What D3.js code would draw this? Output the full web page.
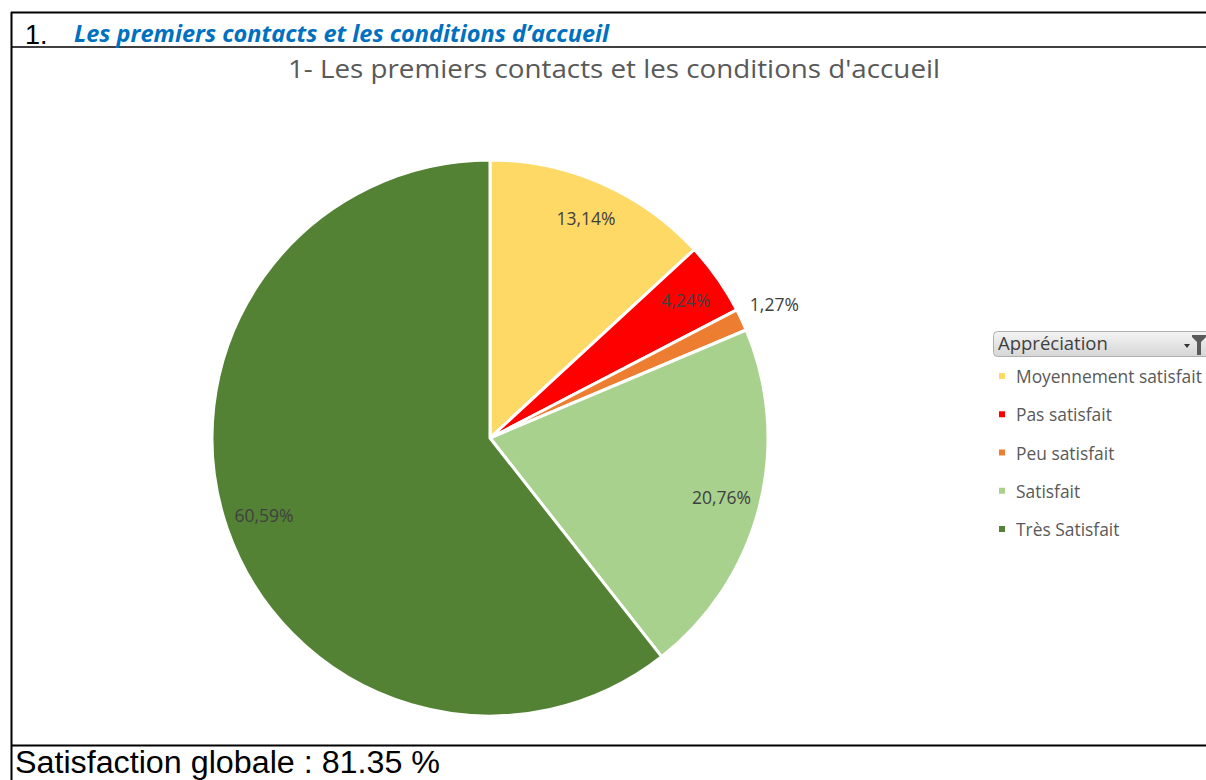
<!DOCTYPE html>
<html><head><meta charset="utf-8">
<script src="https://cdn.jsdelivr.net/npm/d3@7"></script>
<style>body{margin:0;background:#fff;overflow:hidden}</style>
</head><body>
<script>
const categories = ["Moyennement satisfait","Pas satisfait","Peu satisfait","Satisfait","Très Satisfait"];
const values = [13.14, 4.24, 1.27, 20.76, 60.59];
const labels = ["13,14%","4,24%","1,27%","20,76%","60,59%"];
const colors = ["#FFD966","#FF0000","#ED7D31","#A9D18E","#548235"];

const W=1206,H=780;
const F="Open Sans, Lato, sans-serif";
const svg=d3.select("body").append("svg").attr("width",W).attr("height",H);

// table borders
const g0=svg.append("g").attr("fill","none").attr("stroke","#000");
g0.append("line").attr("x1",11).attr("x2",W).attr("y1",12.5).attr("y2",12.5).attr("stroke-width",2);
g0.append("line").attr("x1",11.5).attr("x2",11.5).attr("y1",12).attr("y2",H).attr("stroke-width",2);
g0.append("line").attr("x1",11).attr("x2",W).attr("y1",47).attr("y2",47).attr("stroke-width",1.5);
g0.append("line").attr("x1",11).attr("x2",W).attr("y1",745.5).attr("y2",745.5).attr("stroke-width",2);

svg.append("text").attr("x",25).attr("y",44).attr("font-family","Liberation Sans, Arial").attr("font-size",27).attr("fill","#000").text("1.");
svg.append("text").attr("x",74).attr("y",42).attr("font-family",F).attr("font-style","italic").attr("font-weight","bold").attr("font-size",23).attr("fill","#0070C0")
  .attr("textLength",535).attr("lengthAdjust","spacingAndGlyphs").text("Les premiers contacts et les conditions d’accueil");

svg.append("text").attr("x",15).attr("y",773).attr("font-family","Liberation Sans, Arial").attr("font-size",31).attr("fill","#000")
  .attr("textLength",425).attr("lengthAdjust","spacingAndGlyphs").text("Satisfaction globale : 81.35 %");

// title
svg.append("text").attr("x",614).attr("y",78).attr("text-anchor","middle").attr("font-family",F).attr("font-size",25.5).attr("fill","#595959")
  .attr("textLength",652).attr("lengthAdjust","spacingAndGlyphs").text("1- Les premiers contacts et les conditions d'accueil");

// pie
const cx=490, cy=438, r=278;
const pie=d3.pie().sort(null).value(d=>d)(values);
const arc=d3.arc().innerRadius(0).outerRadius(r);
const gp=svg.append("g").attr("transform",`translate(${cx},${cy})`);
gp.selectAll("path").data(pie).join("path").attr("d",arc).attr("fill",(d,i)=>colors[i]).attr("stroke","#fff").attr("stroke-width",3).attr("stroke-linejoin","round");

const labelArc=d3.arc().innerRadius(r*0.86).outerRadius(r*0.86);
const outArc=d3.arc().innerRadius(r*1.13).outerRadius(r*1.13);
gp.selectAll("text").data(pie).join("text")
  .attr("transform",(d,i)=>{const c=(i===2?outArc:labelArc).centroid(d);return `translate(${c[0]},${c[1]})`;})
  .attr("text-anchor","middle").attr("dy","0.35em")
  .attr("font-family",F).attr("font-size",17.5).attr("fill","#404040")
  .text((d,i)=>labels[i]);

// legend
const defs=svg.append("defs");
const grad=defs.append("linearGradient").attr("id","lg").attr("x1",0).attr("y1",0).attr("x2",0).attr("y2",1);
grad.append("stop").attr("offset","0%").attr("stop-color","#f4f4f4");
grad.append("stop").attr("offset","100%").attr("stop-color","#d6d6d6");
const lg=svg.append("g");
lg.append("rect").attr("x",993.5).attr("y",331.5).attr("width",230).attr("height",25).attr("rx",4).attr("fill","url(#lg)").attr("stroke","#b0b0b0");
lg.append("text").attr("x",998).attr("y",350).attr("font-family",F).attr("font-size",18.5).attr("fill","#404040").text("Appréciation");
// filter icon
lg.append("path").attr("d","M1192,335 L1206,335 L1206,337 L1201,342 L1201,355 L1197,355 L1197,342 L1192,337 Z").attr("fill","#5a5a5a");
lg.append("path").attr("d","M1184,344 L1190,344 L1187,348 Z").attr("fill","#333");
const ly=d3.scalePoint().domain(categories).range([377,530]);
lg.selectAll(".sw").data(categories).join("rect").attr("x",999).attr("y",d=>ly(d)-4).attr("width",6).attr("height",6).attr("fill",(d,i)=>colors[i]);
lg.selectAll(".lt").data(categories).join("text").attr("x",1016).attr("y",d=>ly(d)+6).attr("font-family",F).attr("font-size",17.4).attr("fill","#595959").text(d=>d);
</script>
</body></html>
